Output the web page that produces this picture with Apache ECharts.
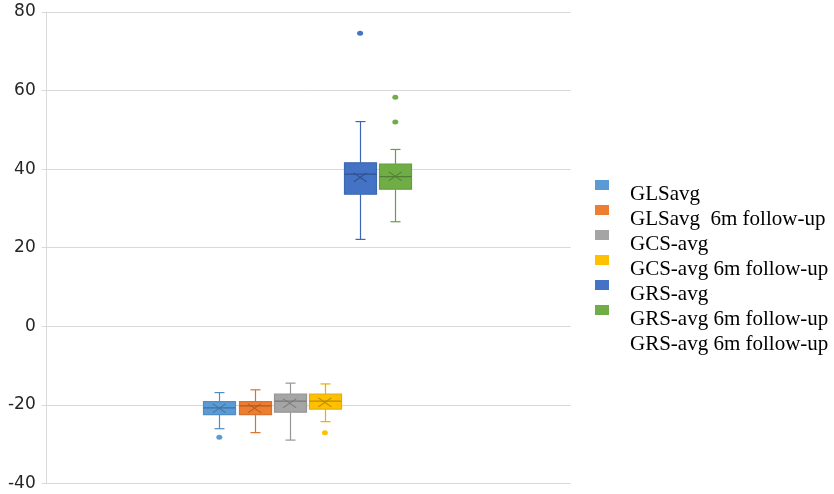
<!DOCTYPE html>
<html>
<head>
<meta charset="utf-8">
<script src="https://cdn.jsdelivr.net/npm/echarts@6/dist/echarts.min.js"></script>
<style>html,body{margin:0;padding:0;background:#fff}#c{width:834px;height:494px}</style>
</head>
<body>
<div id="c"></div>
<script>
const legendLabels = ['GLSavg', 'GLSavg  6m follow-up', 'GCS-avg', 'GCS-avg 6m follow-up', 'GRS-avg', 'GRS-avg 6m follow-up', 'GRS-avg 6m follow-up'];
const whiskerLow  = [-26.1, -27.1, -29.0, -24.3, 22.1, 26.6];
const q1          = [-22.5, -22.5, -21.9, -21.1, 33.6, 34.9];
const medians     = [-20.8, -20.3, -19.1, -19.1, 38.7, 38.1];
const q3          = [-19.2, -19.2, -17.3, -17.3, 41.6, 41.3];
const whiskerHigh = [-16.9, -16.2, -14.5, -14.7, 52.1, 45.0];
const means       = [-20.9, -20.9, -19.6, -19.4, 37.9, 38.2];
const outliers    = [[-28.3], [], [], [-27.1], [74.6], [58.3, 52.0], []];
const yTicks = { min: -40, max: 80, interval: 20 };

const fills = ['#5B9BD5', '#ED7D31', '#A5A5A5', '#FFC000', '#4472C4', '#70AD47'];
const darks = ['#4E8DC7', '#D9712B', '#959595', '#E8AF00', '#3D67B3', '#64A03F'];
const marks = ['#41719C', '#AE5A21', '#787878', '#BC8C00', '#2F528F', '#507E32'];

const cats = ['b0', 'b1', 'b2', 'b3', 'b4', 'b5'];
const seriesKeys = ['s0', 's1', 's2', 's3', 's4', 's5', 's6'];
const legendColors = fills.concat(['rgba(0,0,0,0)']);

const BOX_W = 32, CAP_W = 10;

const boxData = cats.map((c, i) => [i, whiskerLow[i], q1[i], medians[i], q3[i], whiskerHigh[i]]);

function renderBox(params, api) {
  const i = api.value(0);
  const pLow = api.coord([i, api.value(1)]);
  const pQ1 = api.coord([i, api.value(2)]);
  const pMed = api.coord([i, api.value(3)]);
  const pQ3 = api.coord([i, api.value(4)]);
  const pHigh = api.coord([i, api.value(5)]);
  const x = Math.round(pMed[0]) + 0.5;
  const fill = fills[i], dark = darks[i], mk = marks[i];
  const ln = (x1, y1, x2, y2, col) => ({
    type: 'line', shape: { x1, y1, x2, y2 },
    style: { stroke: col, lineWidth: 1.2 }
  });
  return {
    type: 'group',
    children: [
      ln(x, pHigh[1], x, pQ3[1], dark),
      ln(x, pQ1[1], x, pLow[1], dark),
      ln(x - CAP_W / 2, pHigh[1], x + CAP_W / 2, pHigh[1], dark),
      ln(x - CAP_W / 2, pLow[1], x + CAP_W / 2, pLow[1], dark),
      {
        type: 'rect',
        shape: { x: x - BOX_W / 2, y: pQ3[1], width: BOX_W, height: pQ1[1] - pQ3[1] },
        style: { fill: fill, stroke: dark, lineWidth: 1.2 }
      },
      ln(x - BOX_W / 2, pMed[1], x + BOX_W / 2, pMed[1], mk)
    ]
  };
}

const meanData = cats.map((c, i) => ({
  value: [i, means[i]],
  itemStyle: { color: 'rgba(0,0,0,0)', borderColor: marks[i], borderWidth: 1, opacity: 1 }
}));

const outlierSeries = seriesKeys.map((k, i) => ({
  type: 'scatter',
  name: k,
  xAxisIndex: 1,
  yAxisIndex: 1,
  symbol: 'circle',
  symbolSize: [6, 5],
  z: 5,
  itemStyle: { color: legendColors[i], opacity: 1 },
  data: (outliers[i] || []).map(v => [i, v])
}));

const option = {
  animation: false,
  backgroundColor: '#fff',
  grid: [
    { left: 46.7, top: 12, width: 524, height: 471.3, containLabel: false },
    { left: 201.7, top: 12, width: 211.2, height: 471.3, containLabel: false }
  ],
  xAxis: [
    { gridIndex: 0, type: 'category', data: [''], show: false },
    { gridIndex: 1, type: 'category', data: cats, show: false, boundaryGap: true }
  ],
  yAxis: [
    {
      gridIndex: 0, type: 'value', min: yTicks.min, max: yTicks.max, interval: yTicks.interval,
      axisLine: { show: true, lineStyle: { color: '#D9D9D9', width: 1 } },
      axisTick: { show: true, length: 5, lineStyle: { color: '#D9D9D9' } },
      splitLine: { show: true, lineStyle: { color: '#D9D9D9', width: 1 } },
      axisLabel: { color: '#262626', fontFamily: 'DejaVu Sans', fontSize: 17, margin: 11 }
    },
    { gridIndex: 1, type: 'value', min: yTicks.min, max: yTicks.max, show: false, splitLine: { show: false } }
  ],
  legend: [
    {
      orient: 'vertical', left: 595, top: 180, padding: 0,
      itemWidth: 14, itemHeight: 10, itemGap: 15,
      icon: 'rect',
      formatter: () => '',
      textStyle: { fontSize: 6, lineHeight: 6 },
      selectedMode: false,
      data: seriesKeys
    },
    {
      orient: 'vertical', left: 625, top: 184, padding: 0,
      itemWidth: 0, itemHeight: 20, itemGap: 4,
      icon: 'rect',
      itemStyle: { opacity: 0, borderWidth: 0 },
      formatter: (n) => legendLabels[seriesKeys.indexOf(n)],
      textStyle: { fontFamily: 'Liberation Serif', fontSize: 21, lineHeight: 20, color: '#000' },
      selectedMode: false,
      data: seriesKeys
    }
  ],
  series: [
    {
      type: 'custom',
      name: 'box',
      xAxisIndex: 1,
      yAxisIndex: 1,
      z: 3,
      renderItem: renderBox,
      encode: { x: 0, y: [1, 2, 3, 4, 5] },
      data: boxData
    },
    {
      type: 'scatter',
      name: 'mean',
      xAxisIndex: 1,
      yAxisIndex: 1,
      symbol: 'path://M0,0L10,10M10,0L0,10',
      symbolSize: [13, 9],
      z: 6,
      data: meanData
    }
  ].concat(outlierSeries)
};

const chart = echarts.init(document.getElementById('c'), null, { renderer: 'canvas' });
chart.setOption(option);
</script>
</body>
</html>
